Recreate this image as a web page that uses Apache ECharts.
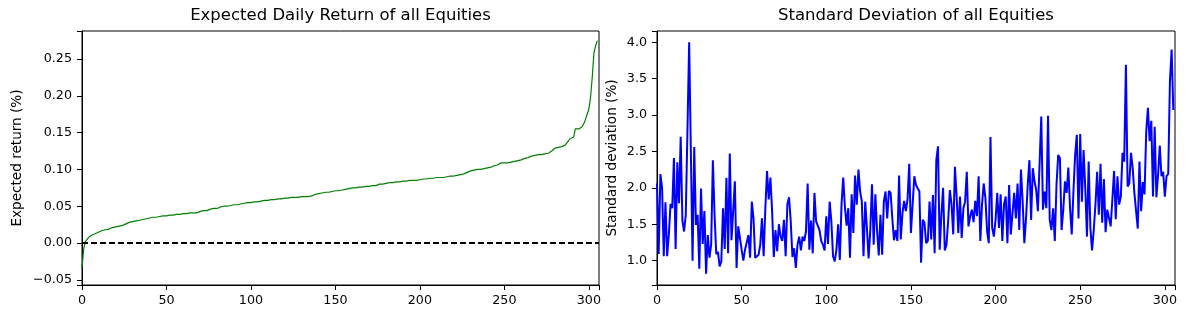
<!DOCTYPE html>
<html>
<head>
<meta charset="utf-8">
<script src="https://cdn.jsdelivr.net/npm/echarts@6/dist/echarts.min.js"></script>
<style>
html,body{margin:0;padding:0;background:#fff;}
#chart{width:1188px;height:319px;}
</style>
</head>
<body>
<div id="chart"></div>
<script>
const leftTitle = "Expected Daily Return of all Equities";
const rightTitle = "Standard Deviation of all Equities";
const leftYName = "Expected return (%)";
const rightYName = "Standard deviation (%)";
const xTicks = [0, 50, 100, 150, 200, 250, 300];
const leftYTicks = [-0.05, 0, 0.05, 0.10, 0.15, 0.20, 0.25];
const rightYTicks = [1.0, 1.5, 2.0, 2.5, 3.0, 3.5, 4.0];

// Expected daily return (%), sorted ascending
const expectedReturn = [
-0.034,-0.008,0.002,0.005,0.008,0.010,0.011,0.012,0.013,0.014,
0.015,0.016,0.017,0.017,0.018,0.018,0.019,0.020,0.021,0.022,
0.022,0.023,0.023,0.024,0.024,0.025,0.026,0.027,0.028,0.029,
0.029,0.030,0.030,0.031,0.031,0.032,0.032,0.033,0.033,0.034,
0.034,0.034,0.035,0.035,0.035,0.036,0.036,0.036,0.037,0.037,
0.037,0.037,0.038,0.038,0.038,0.038,0.039,0.039,0.039,0.039,
0.040,0.040,0.040,0.040,0.041,0.041,0.041,0.041,0.041,0.042,
0.043,0.043,0.044,0.044,0.044,0.045,0.046,0.046,0.047,0.047,
0.047,0.048,0.049,0.049,0.050,0.050,0.050,0.051,0.051,0.051,
0.052,0.052,0.052,0.053,0.053,0.054,0.054,0.054,0.055,0.055,
0.055,0.056,0.056,0.056,0.056,0.057,0.057,0.057,0.058,0.058,
0.058,0.058,0.059,0.059,0.059,0.060,0.060,0.060,0.060,0.060,
0.061,0.061,0.061,0.061,0.062,0.062,0.062,0.062,0.062,0.062,
0.063,0.063,0.063,0.063,0.063,0.064,0.064,0.065,0.066,0.067,
0.067,0.068,0.068,0.068,0.069,0.069,0.069,0.070,0.070,0.070,
0.071,0.071,0.071,0.072,0.072,0.073,0.073,0.074,0.074,0.074,
0.075,0.075,0.075,0.075,0.076,0.076,0.076,0.076,0.077,0.077,
0.077,0.077,0.078,0.078,0.078,0.080,0.080,0.080,0.080,0.081,
0.081,0.081,0.082,0.082,0.082,0.083,0.083,0.083,0.083,0.084,
0.084,0.084,0.084,0.084,0.085,0.085,0.085,0.085,0.085,0.086,
0.086,0.086,0.087,0.087,0.087,0.088,0.088,0.088,0.088,0.088,
0.089,0.089,0.089,0.089,0.089,0.089,0.090,0.090,0.091,0.091,
0.091,0.092,0.092,0.093,0.093,0.093,0.094,0.095,0.096,0.097,
0.098,0.098,0.099,0.099,0.100,0.100,0.100,0.101,0.101,0.101,
0.102,0.102,0.103,0.105,0.105,0.106,0.106,0.108,0.109,0.109,
0.109,0.109,0.109,0.110,0.110,0.110,0.111,0.111,0.112,0.113,
0.113,0.114,0.115,0.115,0.116,0.117,0.118,0.118,0.119,0.119,
0.120,0.120,0.120,0.121,0.121,0.122,0.122,0.124,0.125,0.127,
0.129,0.129,0.130,0.130,0.131,0.131,0.133,0.135,0.139,0.142,
0.143,0.144,0.155,0.155,0.155,0.156,0.158,0.162,0.168,0.175,
0.182,0.198,0.225,0.258,0.268,0.275
];

// Standard deviation (%), same equity order
const stdDev = [
2.06,1.09,2.19,2.00,1.06,1.80,1.06,1.36,1.78,1.72,
2.41,1.16,2.35,1.79,2.70,1.55,1.40,1.63,2.80,4.00,
2.50,1.00,2.56,1.49,1.63,0.89,1.99,1.23,1.68,0.82,
1.35,1.04,1.22,2.38,1.63,1.09,1.12,0.92,0.99,1.72,
1.16,2.14,1.10,2.47,1.28,1.29,2.09,0.90,1.47,1.45,
1.15,1.00,1.15,1.16,1.35,1.04,1.81,1.58,1.04,1.04,
1.08,1.22,1.58,1.06,1.72,2.23,1.84,2.14,1.68,1.05,
1.42,1.13,1.50,1.33,1.27,1.56,1.06,1.77,1.87,1.54,
1.05,1.17,0.90,1.22,1.33,1.14,1.33,1.27,1.40,2.06,
1.15,1.55,1.10,1.93,1.54,1.54,1.42,1.27,1.22,1.14,
1.61,1.23,1.81,1.54,1.06,0.99,1.15,1.50,1.01,1.77,
2.14,1.74,1.48,1.72,1.04,1.91,1.38,2.17,1.77,2.25,
1.95,1.81,1.06,1.81,1.45,1.03,1.42,2.05,1.22,1.91,
1.41,1.07,1.63,1.08,1.81,1.95,1.58,1.96,1.93,1.58,
1.28,1.42,1.27,2.17,1.29,1.65,1.82,1.68,1.84,2.33,
1.38,1.38,2.16,2.04,2.04,1.95,0.97,1.56,1.52,1.24,
1.27,1.81,1.29,1.90,1.10,2.38,2.57,1.15,1.63,2.00,
1.14,1.22,1.54,1.97,1.77,1.36,2.29,1.88,1.38,1.88,
1.31,1.72,1.81,2.22,1.47,1.61,1.70,1.53,1.82,1.61,
2.16,1.27,1.77,2.06,1.86,1.40,1.24,2.70,1.45,1.33,
1.56,1.93,1.45,1.91,1.27,1.77,1.88,1.24,2.04,1.36,
1.36,1.93,1.58,2.06,1.42,2.25,1.81,1.24,1.58,2.04,
2.38,1.56,2.27,2.09,1.97,1.68,1.70,2.98,1.70,1.95,
1.72,2.99,1.56,1.42,1.72,1.27,2.04,2.45,2.41,1.42,
1.70,2.09,1.93,2.28,1.72,1.36,1.95,2.45,2.73,1.58,
2.74,1.81,2.52,1.99,1.33,2.36,1.45,1.14,1.42,1.77,
2.22,1.63,2.33,1.52,2.12,1.39,1.70,1.68,1.47,1.84,
2.23,1.57,2.16,1.77,1.88,2.48,2.36,3.69,2.02,2.06,
2.48,2.27,1.93,1.93,1.44,2.36,1.68,2.08,1.91,2.77,
3.10,2.64,2.92,1.88,2.84,1.87,2.18,2.58,2.16,2.22,
1.88,2.16,2.19,3.46,3.90,3.07
];

const FONT = "DejaVu Sans";
const TICK_FS = 12.7;
const NAME_FS = 13.6;
const chart = echarts.init(document.getElementById('chart'), null, {renderer: 'canvas'});

function near(v, list, eps) { return list.some(t => Math.abs(t - v) < eps); }
function fmtMinus(s) { return s.replace('-', '\u2212'); }

const axisCommon = {
  axisLine: {show: true, onZero: false, lineStyle: {color: '#000', width: 1}},
  axisTick: {show: true, inside: false, length: 5, lineStyle: {color: '#000', width: 1}},
  splitLine: {show: false},
};

const xAxisDef = (gi) => Object.assign({}, axisCommon, {
  type: 'value', gridIndex: gi, min: 0, max: 306, interval: 50,
  axisLabel: {
    color: '#000', fontFamily: FONT, fontSize: TICK_FS, margin: 9,
    formatter: v => near(v, xTicks, 1e-6) ? String(v) : ''
  }
});

const option = {
  animation: false,
  backgroundColor: '#fff',
  grid: [
    {left: 82, right: 589, top: 31, bottom: 34, show: true, borderColor: '#000', borderWidth: 1, containLabel: false},
    {left: 657, right: 13, top: 31, bottom: 34, show: true, borderColor: '#000', borderWidth: 1, containLabel: false}
  ],
  graphic: [
    {type: 'text', x: 340.5, y: 16, style: {text: leftTitle, font: '16.5px "DejaVu Sans"', fill: '#000', textAlign: 'center', textVerticalAlign: 'middle'}},
    {type: 'text', x: 916, y: 16, style: {text: rightTitle, font: '16.5px "DejaVu Sans"', fill: '#000', textAlign: 'center', textVerticalAlign: 'middle'}}
  ],
  xAxis: [xAxisDef(0), xAxisDef(1)],
  yAxis: [
    Object.assign({}, axisCommon, {
      type: 'value', gridIndex: 0, min: -0.057, max: 0.288,
      name: leftYName, nameLocation: 'middle', nameRotate: 90, nameGap: 58,
      nameTextStyle: {color: '#000', fontFamily: FONT, fontSize: NAME_FS},
      axisLabel: {
        color: '#000', fontFamily: FONT, fontSize: TICK_FS, margin: 10,
        formatter: v => near(v, leftYTicks, 1e-6) ? fmtMinus(v.toFixed(2)) : ''
      }
    }),
    Object.assign({}, axisCommon, {
      type: 'value', gridIndex: 1, min: 0.665, max: 4.155,
      name: rightYName, nameLocation: 'middle', nameRotate: 90, nameGap: 38,
      nameTextStyle: {color: '#000', fontFamily: FONT, fontSize: NAME_FS},
      axisLabel: {
        color: '#000', fontFamily: FONT, fontSize: TICK_FS, margin: 10,
        formatter: v => near(v, rightYTicks, 1e-6) ? v.toFixed(1) : ''
      }
    })
  ],
  series: [
    {
      type: 'line', xAxisIndex: 0, yAxisIndex: 0,
      data: expectedReturn.map((v, i) => [i, v]),
      showSymbol: false, symbol: 'none',
      lineStyle: {color: '#008000', width: 1.2},
      z: 3,
      markLine: {
        silent: true, symbol: ['none', 'none'], label: {show: false},
        lineStyle: {color: '#000', type: [6, 3], width: 2},
        data: [{yAxis: 0}],
        animation: false
      }
    },
    {
      type: 'line', xAxisIndex: 1, yAxisIndex: 1,
      data: stdDev.map((v, i) => [i, v]),
      showSymbol: false, symbol: 'none',
      lineStyle: {color: '#0000ff', width: 2},
      z: 3
    }
  ]
};
chart.setOption(option);
</script>
</body>
</html>
